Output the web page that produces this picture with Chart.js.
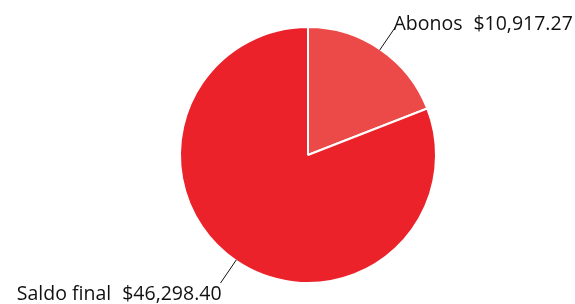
<!DOCTYPE html>
<html>
<head>
<meta charset="utf-8">
<script src="https://cdn.jsdelivr.net/npm/chart.js@4/dist/chart.umd.min.js"></script>
<style>
  html, body { margin: 0; padding: 0; background: #fff; }
  #wrap { width: 575px; height: 304px; }
</style>
</head>
<body>
<div id="wrap"><canvas id="pieChart"></canvas></div>
<script>
var labels = ['Abonos', 'Saldo final'];
var values = [10917.27, 46298.40];
var colors = ['#ec4a48', '#ec222b'];

function money(v) {
    return '$' + v.toLocaleString('en-US', { minimumFractionDigits: 2, maximumFractionDigits: 2 });
}

// leader lines + labels outside the slices
var outsideLabels = {
    id: 'outsideLabels',
    afterDatasetsDraw: function (chart) {
        var ctx = chart.ctx;
        var meta = chart.getDatasetMeta(0);
        var gap = 11;
        ctx.save();
        ctx.font = '19.5px "Open Sans", sans-serif';
        ctx.fillStyle = '#111';
        ctx.strokeStyle = '#111';
        ctx.lineWidth = 1;
        ctx.textBaseline = 'middle';
        ctx.textAlign = 'left';
        meta.data.forEach(function (arc, i) {
            var p = arc.getProps(['x', 'y', 'startAngle', 'endAngle', 'outerRadius'], true);
            var mid = (p.startAngle + p.endAngle) / 2;
            var cos = Math.cos(mid), sin = Math.sin(mid);
            var x1 = p.x + cos * (p.outerRadius - 1);
            var y1 = p.y + sin * (p.outerRadius - 1);
            var x2 = p.x + cos * (p.outerRadius + 27);
            var y2 = p.y + sin * (p.outerRadius + 27);
            ctx.beginPath();
            ctx.moveTo(x1, y1);
            ctx.lineTo(x2, y2);
            ctx.stroke();
            var name = labels[i], val = money(values[i]);
            var w = ctx.measureText(name).width + gap + ctx.measureText(val).width;
            var tx = cos >= 0 ? x2 - 2 : x2 + 1 - w;
            var ty = y2 + (sin < 0 ? -3 : 11);
            ctx.fillText(name, tx, ty);
            ctx.fillText(val, tx + ctx.measureText(name).width + gap, ty);
        });
        ctx.restore();
    }
};

var ctx = document.getElementById('pieChart').getContext('2d');
var pieChart = new Chart(ctx, {
    type: 'pie',
    data: {
        labels: labels,
        datasets: [{
            data: values,
            backgroundColor: colors,
            borderColor: '#ffffff',
            borderWidth: 2
        }]
    },
    options: {
        responsive: true,
        maintainAspectRatio: false,
        animation: false,
        layout: { padding: { left: 41, right: 0, top: 26, bottom: 20 } },
        plugins: {
            legend: { display: false },
            tooltip: { enabled: false }
        }
    },
    plugins: [outsideLabels]
});
</script>
</body>
</html>
